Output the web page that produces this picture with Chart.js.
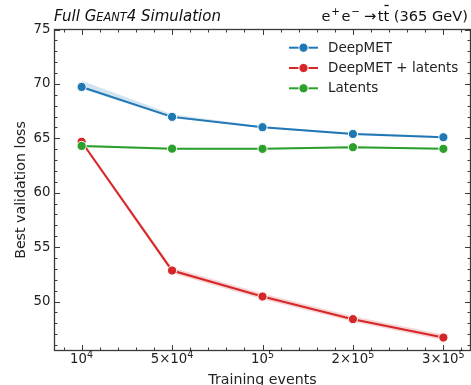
<!DOCTYPE html>
<html>
<head>
<meta charset="utf-8">
<script src="https://cdn.jsdelivr.net/npm/chart.js@4.4.1/dist/chart.umd.min.js"></script>
<style>
  html, body { margin: 0; padding: 0; background: #fff; }
  #wrap { width: 471px; height: 385px; }
</style>
</head>
<body>
<div id="wrap"><canvas id="lossChart"></canvas></div>
<script>
// x categories (equally spaced, "mantissa^exponent") and y tick values
const categories = ['10^4', '5×10^4', '10^5', '2×10^5', '3×10^5'];
const yTicks = [50, 55, 60, 65, 70, 75];

// best validation loss per training size
const deepmet = [69.72, 66.97, 66.02, 65.40, 65.10];
const deepmetUpper = [70.28, 67.22, 66.12, 65.50, 65.20];
const deepmetLower = [69.55, 66.84, 65.94, 65.32, 65.02];

const deepmetLatents = [64.68, 52.85, 50.46, 48.38, 46.69];
const deepmetLatentsUpper = [64.85, 53.12, 50.74, 48.64, 46.98];
const deepmetLatentsLower = [64.48, 52.60, 50.20, 48.14, 46.45];

const latents = [64.30, 64.05, 64.03, 64.18, 64.03];
const latentsUpper = [64.40, 64.14, 64.12, 64.28, 64.12];
const latentsLower = [64.20, 63.96, 63.94, 64.08, 63.94];

const BLUE = '#1f77b4', RED = '#d62728', GREEN = '#2ca02c';
const FONT = "'DejaVu Sans', sans-serif";

const pts = arr => arr.map((v, i) => ({ x: i, y: v }));

function band(upper, lower, color) {
  return [
    { data: pts(upper), fill: '+1', backgroundColor: color, borderWidth: 0, pointRadius: 0, order: 10 },
    { data: pts(lower), fill: false, borderWidth: 0, pointRadius: 0, order: 10 }
  ];
}

function line(label, values, color, order) {
  return {
    label: label,
    data: pts(values),
    borderColor: color,
    backgroundColor: color,
    borderWidth: 2,
    pointRadius: 4.6,
    pointBorderColor: '#fff',
    pointBorderWidth: 1,
    fill: false,
    tension: 0,
    order: order
  };
}

const series = [
  { label: 'DeepMET', color: BLUE },
  { label: 'DeepMET + latents', color: RED },
  { label: 'Latents', color: GREEN }
];

// draws a run of [text, size, raise, gapAfter] pieces starting at x, returns end x
function drawRun(ctx, pieces, x, baseline, style) {
  pieces.forEach(([t, size, raise, gap]) => {
    ctx.font = style + size + 'px ' + FONT;
    ctx.fillText(t, x, baseline - (raise || 0));
    x += ctx.measureText(t).width + (gap || 0);
  });
  return x;
}

function runWidth(ctx, pieces, style) {
  let w = 0;
  pieces.forEach(([t, size, raise, gap]) => {
    ctx.font = style + size + 'px ' + FONT;
    w += ctx.measureText(t).width + (gap || 0);
  });
  return w;
}

// frame, inward ticks, tick labels, legend and header text
const decorations = {
  id: 'decorations',
  afterDatasetsDraw(chart) {
    const { ctx, chartArea: a, scales: { x, y } } = chart;
    ctx.save();
    ctx.strokeStyle = '#3a3a3a';
    ctx.lineWidth = 1;
    ctx.beginPath();
    for (let k = -1; k <= 21; k++) {
      const px = Math.round(x.getPixelForValue(k / 5)) + 0.5;
      const len = k % 5 === 0 ? 5.5 : 3;
      ctx.moveTo(px, a.bottom); ctx.lineTo(px, a.bottom - len);
      ctx.moveTo(px, a.top); ctx.lineTo(px, a.top + len);
    }
    for (let v = 46; v <= 75; v++) {
      const py = Math.round(y.getPixelForValue(v)) + 0.5;
      const len = v % 5 === 0 ? 5.5 : 3;
      ctx.moveTo(a.left, py); ctx.lineTo(a.left + len, py);
      ctx.moveTo(a.right, py); ctx.lineTo(a.right - len, py);
    }
    ctx.stroke();
    ctx.lineWidth = 1.3;
    ctx.strokeRect(a.left, a.top, a.right - a.left, a.bottom - a.top);

    // x tick labels with raised exponents
    ctx.fillStyle = '#222';
    ctx.textAlign = 'left';
    ctx.textBaseline = 'alphabetic';
    categories.forEach((c, i) => {
      const [base, exp] = c.split('^');
      const pieces = [[base, 13.3, 0], [exp, 9.6, 5.8]];
      const w = runWidth(ctx, pieces, '');
      drawRun(ctx, pieces, x.getPixelForValue(i) - w / 2, a.bottom + 12.8, '');
    });

    // legend
    ctx.textBaseline = 'middle';
    ctx.font = '13.5px ' + FONT;
    series.forEach((s, i) => {
      const ly = 47.7 + i * 20.3;
      ctx.strokeStyle = s.color;
      ctx.lineWidth = 2;
      ctx.beginPath();
      ctx.moveTo(289, ly); ctx.lineTo(318, ly);
      ctx.stroke();
      ctx.beginPath();
      ctx.arc(303.5, ly, 4.6, 0, Math.PI * 2);
      ctx.fillStyle = s.color;
      ctx.fill();
      ctx.strokeStyle = '#fff';
      ctx.lineWidth = 1;
      ctx.stroke();
      ctx.fillStyle = '#222';
      ctx.fillText(s.label, 328, ly + 0.5);
    });

    // header: left italic small-caps label
    ctx.textBaseline = 'alphabetic';
    ctx.fillStyle = '#111';
    drawRun(ctx, [['Full G', 15, 0], ['EANT', 11.4, 0], ['4 Simulation', 15, 0]], 54, 20.5, 'italic ');

    // header: right process label
    const pre = [['e', 14.6, 0, 0.8], ['+', 10.4, 5.6, 1.5], ['e', 14.6, 0, 0.8], ['−', 10.4, 5.6, 4], ['→', 14.6, 0, 1.5], ['t', 14.6, 0]];
    const tbar = [['t', 14.6, 0]];
    const post = [[' (365 GeV)', 14.6, 0]];
    const total = runWidth(ctx, pre, '') + runWidth(ctx, tbar, '') + runWidth(ctx, post, '');
    let hx = drawRun(ctx, pre, 468 - total, 20.5, '');
    const tx = hx;
    hx = drawRun(ctx, tbar, hx, 20.5, '');
    ctx.strokeStyle = '#111';
    ctx.lineWidth = 1.3;
    ctx.beginPath();
    ctx.moveTo(tx + 1, 5.5); ctx.lineTo(hx - 0.5, 5.5);
    ctx.stroke();
    drawRun(ctx, post, hx, 20.5, '');
    ctx.restore();
  }
};

new Chart(document.getElementById('lossChart'), {
  type: 'line',
  data: {
    datasets: [
      line('DeepMET', deepmet, BLUE, 3),
      line('DeepMET + latents', deepmetLatents, RED, 2),
      line('Latents', latents, GREEN, 1),
      ...band(deepmetUpper, deepmetLower, 'rgba(31,119,180,0.2)'),
      ...band(deepmetLatentsUpper, deepmetLatentsLower, 'rgba(214,39,40,0.2)'),
      ...band(latentsUpper, latentsLower, 'rgba(44,160,44,0.2)')
    ]
  },
  options: {
    responsive: true,
    maintainAspectRatio: false,
    animation: false,
    layout: { autoPadding: false, padding: { top: 29.5, right: 0.5, left: 0, bottom: 0 } },
    plugins: { legend: { display: false }, tooltip: { enabled: false } },
    scales: {
      x: {
        type: 'linear',
        min: -0.3,
        max: 4.3,
        grid: { display: false, drawTicks: false },
        border: { display: false },
        afterFit: s => { s.height = 34.5; s.paddingLeft = 0; s.paddingRight = 0; },
        ticks: { display: false },
        title: {
          display: true,
          text: 'Training events',
          color: '#222',
          font: { family: FONT, size: 14.2 },
          padding: { top: 0, bottom: -3.4 }
        }
      },
      y: {
        min: 45.5,
        max: 75,
        grid: { display: false, drawTicks: false },
        border: { display: false },
        afterBuildTicks: s => { s.ticks = yTicks.map(v => ({ value: v })); },
        afterFit: s => { s.width = 54.5; },
        ticks: {
          padding: 4,
          color: '#222',
          font: { family: FONT, size: 13.3 }
        },
        title: {
          display: true,
          text: 'Best validation loss',
          color: '#222',
          font: { family: FONT, size: 14.2 },
          padding: { top: 13, bottom: 0 }
        }
      }
    }
  },
  plugins: [decorations]
});
</script>
</body>
</html>
